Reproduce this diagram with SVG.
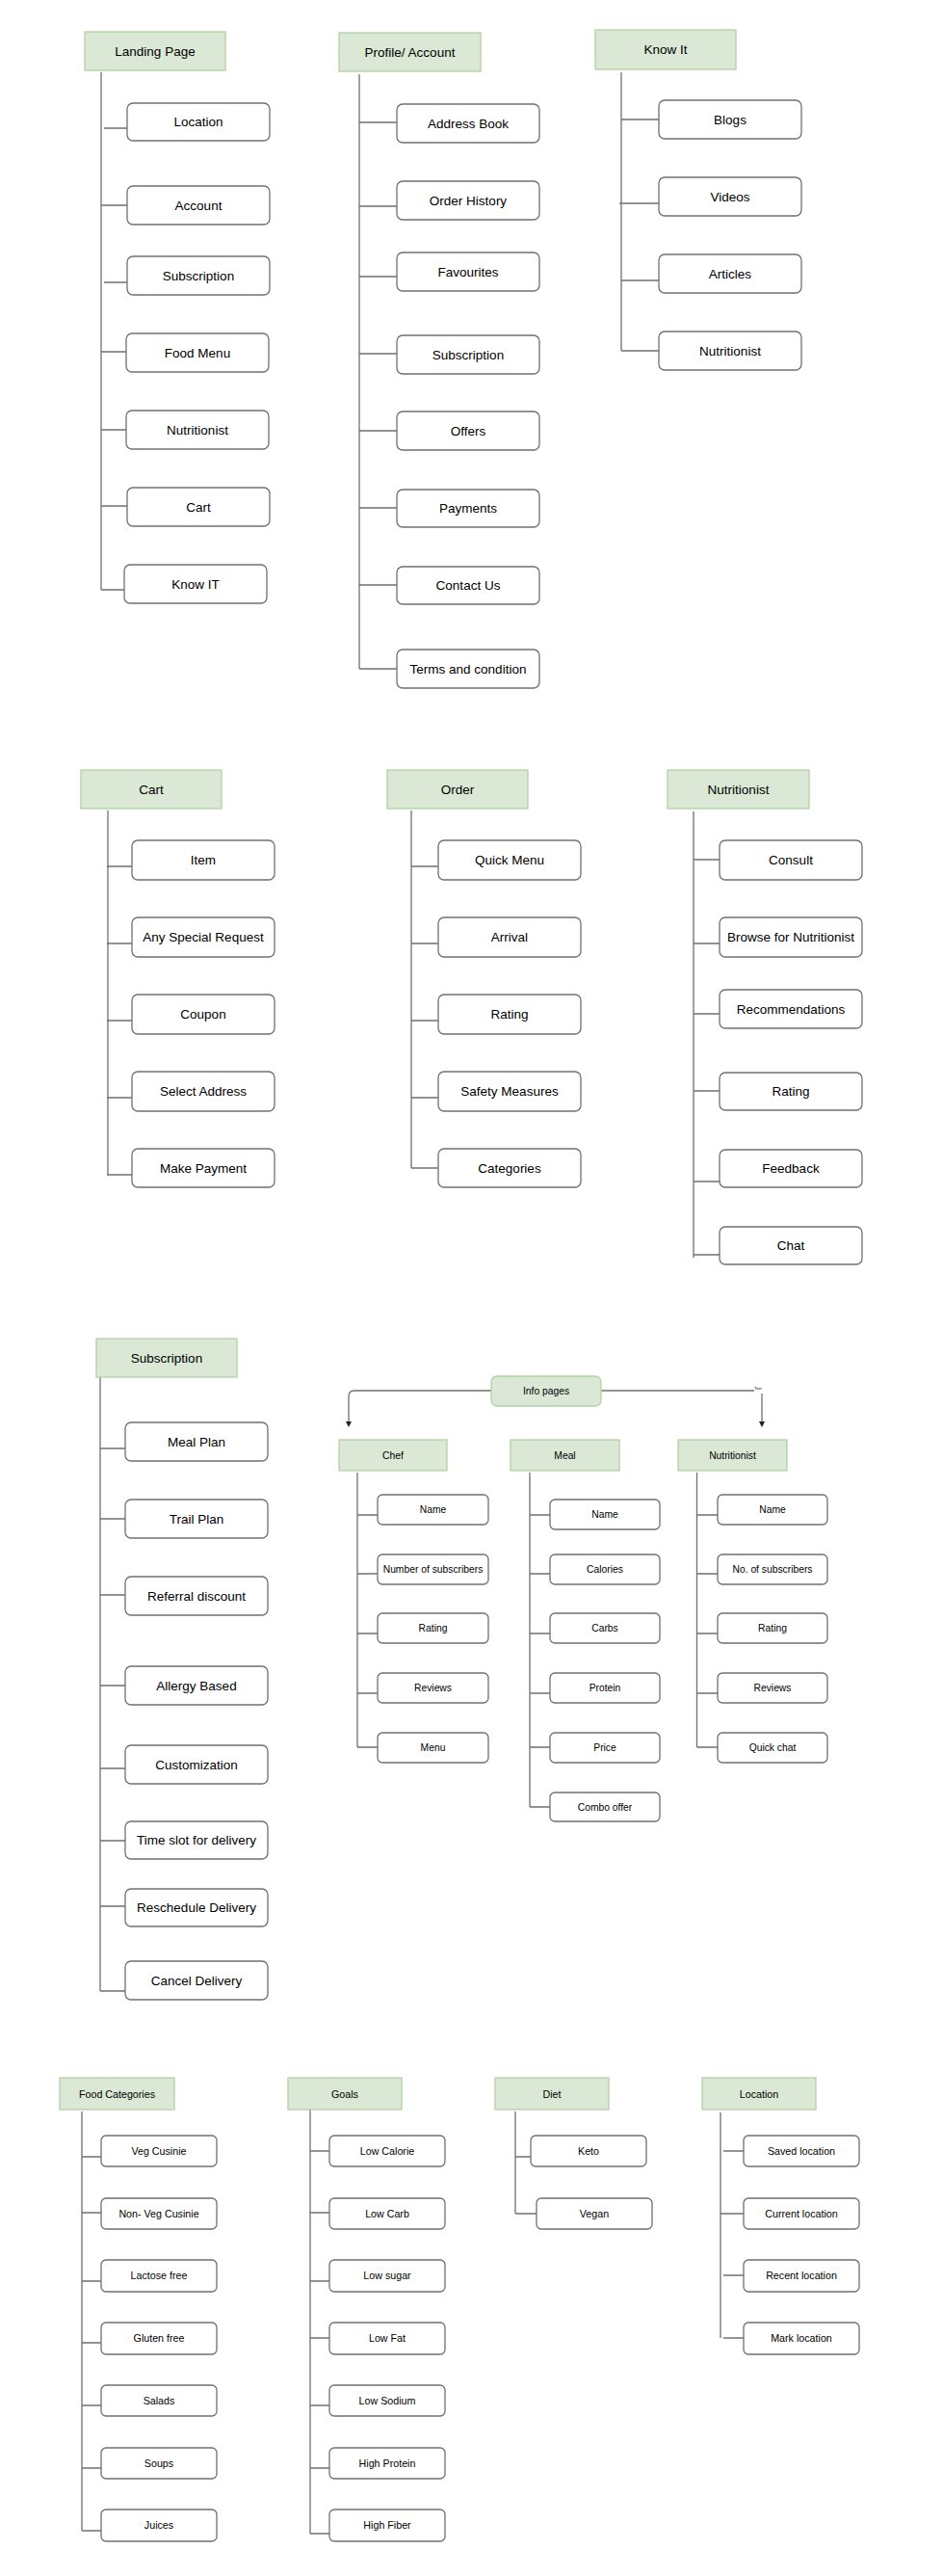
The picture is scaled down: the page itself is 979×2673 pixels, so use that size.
<svg xmlns="http://www.w3.org/2000/svg" width="979" height="2673" viewBox="0 0 979 2673">
<style>
.hdr{fill:#dae8d5;stroke:#b3d2a4;stroke-width:1.3}
.box{fill:#fff;stroke:#707070;stroke-width:1.3}
.ln{stroke:#707070;stroke-width:1.3;fill:none}
text{font-family:'Liberation Sans',Arial,sans-serif;text-anchor:middle;fill:#000}
.a{font-size:13.5px}
.b{font-size:10.3px}
.c{font-size:10.7px}
</style>
<defs>
<marker id="ah" markerWidth="6" markerHeight="6" refX="3" refY="3" orient="auto" markerUnits="userSpaceOnUse"><path d="M0,0 L6,3 L0,6 Z" fill="#222"/></marker>
</defs>
<rect width="979" height="2673" fill="#fff"/>

<g id="connectors">
<path class="ln" d="M105 75V612 M108 133H132 M105 213H132 M108 293H132 M105 365H131 M105 446H131 M105 525H132 M105 612H129"/>
<path class="ln" d="M373 77V694 M373 127H412 M373 214H412 M373 287H412 M373 367H412 M373 447H412 M373 527H412 M373 607H412 M373 694H412"/>
<path class="ln" d="M645 75V364 M645 124H684 M643 211H684 M645 291H684 M645 364H684"/>
<path class="ln" d="M112 841V1219 M111 899H137 M111 979H137 M111 1059H137 M111 1139H137 M111 1219H137"/>
<path class="ln" d="M427 841V1212 M427 899H455 M427 979H455 M427 1059H455 M427 1139H455 M427 1212H455"/>
<path class="ln" d="M720 842V1305 M720 892H747 M720 979H747 M720 1052H747 M720 1132H747 M720 1226H747 M720 1302H747"/>
<path class="ln" d="M104 1429V2066 M104 1503H130 M104 1576H130 M104 1655H130 M104 1749H130 M104 1835H130 M104 1910H130 M104 1978H130 M104 2066H130"/>
<path class="ln" d="M510 1443H368Q362 1443 362 1449V1478" marker-end="url(#ah)"/>
<path class="ln" d="M624 1443H783 M791 1446V1478" marker-end="url(#ah)"/>
<text x="787" y="1442" style="font-size:4px">Text</text>
<path class="ln" d="M371 1528V1813 M371 1572H392 M371 1633H392 M371 1695H392 M371 1757H392 M371 1813H392"/>
<path class="ln" d="M550 1528V1875 M550 1572H571 M550 1633H571 M550 1695H571 M550 1757H571 M550 1813H571 M550 1875H571"/>
<path class="ln" d="M723.5 1528V1813 M723.5 1572H745 M723.5 1633H745 M723.5 1695H745 M723.5 1757H745 M723.5 1813H745"/>
<path class="ln" d="M85 2191V2626 M85 2238H105 M85 2296H105 M85 2367H105 M85 2431H105 M85 2496H105 M85 2561H105 M85 2626H105"/>
<path class="ln" d="M322 2188V2629 M322 2232H342 M322 2296H342 M322 2367H342 M322 2426H342 M322 2496H342 M322 2561H342 M322 2629H342"/>
<path class="ln" d="M535 2191V2297 M535 2238H551 M535 2297H557"/>
<path class="ln" d="M748 2192V2426 M751 2232H772 M748 2297H772 M751 2361H772 M751 2426H772"/>
</g>

<g id="landing-page"><rect class="hdr" x="88" y="33" width="146" height="40"/><text class="a" x="161" y="57.5">Landing Page</text></g>
<g id="lp-location"><rect class="box" x="132" y="107" width="148" height="39" rx="6"/><text class="a" x="206" y="131">Location</text></g>
<g id="lp-account"><rect class="box" x="132" y="193" width="148" height="40" rx="6"/><text class="a" x="206" y="217.5">Account</text></g>
<g id="lp-subscription"><rect class="box" x="132" y="266" width="148" height="40" rx="6"/><text class="a" x="206" y="290.5">Subscription</text></g>
<g id="lp-foodmenu"><rect class="box" x="131" y="346" width="148" height="40" rx="6"/><text class="a" x="205" y="370.5">Food Menu</text></g>
<g id="lp-nutritionist"><rect class="box" x="131" y="426" width="148" height="40" rx="6"/><text class="a" x="205" y="450.5">Nutritionist</text></g>
<g id="lp-cart"><rect class="box" x="132" y="506" width="148" height="40" rx="6"/><text class="a" x="206" y="530.5">Cart</text></g>
<g id="lp-knowit"><rect class="box" x="129" y="586" width="148" height="40" rx="6"/><text class="a" x="203" y="610.5">Know IT</text></g>

<g id="profile"><rect class="hdr" x="352" y="34" width="147" height="40"/><text class="a" x="425.5" y="58.5">Profile/ Account</text></g>
<g id="pa-address"><rect class="box" x="412" y="108" width="148" height="40" rx="6"/><text class="a" x="486" y="132.5">Address Book</text></g>
<g id="pa-orders"><rect class="box" x="412" y="188" width="148" height="40" rx="6"/><text class="a" x="486" y="212.5">Order History</text></g>
<g id="pa-fav"><rect class="box" x="412" y="262" width="148" height="40" rx="6"/><text class="a" x="486" y="286.5">Favourites</text></g>
<g id="pa-sub"><rect class="box" x="412" y="348" width="148" height="40" rx="6"/><text class="a" x="486" y="372.5">Subscription</text></g>
<g id="pa-offers"><rect class="box" x="412" y="427" width="148" height="40" rx="6"/><text class="a" x="486" y="451.5">Offers</text></g>
<g id="pa-payments"><rect class="box" x="412" y="508" width="148" height="39" rx="6"/><text class="a" x="486" y="532">Payments</text></g>
<g id="pa-contact"><rect class="box" x="412" y="588" width="148" height="39" rx="6"/><text class="a" x="486" y="612">Contact Us</text></g>
<g id="pa-terms"><rect class="box" x="412" y="674" width="148" height="40" rx="6"/><text class="a" x="486" y="698.5">Terms and condition</text></g>

<g id="knowit"><rect class="hdr" x="618" y="31" width="146" height="41"/><text class="a" x="691" y="56">Know It</text></g>
<g id="ki-blogs"><rect class="box" x="684" y="104" width="148" height="40" rx="6"/><text class="a" x="758" y="128.5">Blogs</text></g>
<g id="ki-videos"><rect class="box" x="684" y="184" width="148" height="40" rx="6"/><text class="a" x="758" y="208.5">Videos</text></g>
<g id="ki-articles"><rect class="box" x="684" y="264" width="148" height="40" rx="6"/><text class="a" x="758" y="288.5">Articles</text></g>
<g id="ki-nutritionist"><rect class="box" x="684" y="344" width="148" height="40" rx="6"/><text class="a" x="758" y="368.5">Nutritionist</text></g>

<g id="cart"><rect class="hdr" x="84" y="799" width="146" height="40"/><text class="a" x="157" y="823.5">Cart</text></g>
<g id="c-item"><rect class="box" x="137" y="872" width="148" height="41" rx="6"/><text class="a" x="211" y="897">Item</text></g>
<g id="c-special"><rect class="box" x="137" y="952" width="148" height="41" rx="6"/><text class="a" x="211" y="977">Any Special Request</text></g>
<g id="c-coupon"><rect class="box" x="137" y="1032" width="148" height="41" rx="6"/><text class="a" x="211" y="1057">Coupon</text></g>
<g id="c-address"><rect class="box" x="137" y="1112" width="148" height="41" rx="6"/><text class="a" x="211" y="1137">Select Address</text></g>
<g id="c-payment"><rect class="box" x="137" y="1192" width="148" height="40" rx="6"/><text class="a" x="211" y="1216.5">Make Payment</text></g>

<g id="order"><rect class="hdr" x="402" y="799" width="146" height="40"/><text class="a" x="475" y="823.5">Order</text></g>
<g id="o-quick"><rect class="box" x="455" y="872" width="148" height="41" rx="6"/><text class="a" x="529" y="897">Quick Menu</text></g>
<g id="o-arrival"><rect class="box" x="455" y="952" width="148" height="41" rx="6"/><text class="a" x="529" y="977">Arrival</text></g>
<g id="o-rating"><rect class="box" x="455" y="1032" width="148" height="41" rx="6"/><text class="a" x="529" y="1057">Rating</text></g>
<g id="o-safety"><rect class="box" x="455" y="1112" width="148" height="41" rx="6"/><text class="a" x="529" y="1137">Safety Measures</text></g>
<g id="o-categories"><rect class="box" x="455" y="1192" width="148" height="40" rx="6"/><text class="a" x="529" y="1216.5">Categories</text></g>

<g id="nutritionist"><rect class="hdr" x="693" y="799" width="147" height="40"/><text class="a" x="766.5" y="823.5">Nutritionist</text></g>
<g id="n-consult"><rect class="box" x="747" y="872" width="148" height="41" rx="6"/><text class="a" x="821" y="897">Consult</text></g>
<g id="n-browse"><rect class="box" x="747" y="952" width="148" height="41" rx="6"/><text class="a" x="821" y="977">Browse for Nutritionist</text></g>
<g id="n-reco"><rect class="box" x="747" y="1027" width="148" height="40" rx="6"/><text class="a" x="821" y="1051.5">Recommendations</text></g>
<g id="n-rating"><rect class="box" x="747" y="1113" width="148" height="39" rx="6"/><text class="a" x="821" y="1137">Rating</text></g>
<g id="n-feedback"><rect class="box" x="747" y="1193" width="148" height="39" rx="6"/><text class="a" x="821" y="1217">Feedback</text></g>
<g id="n-chat"><rect class="box" x="747" y="1273" width="148" height="39" rx="6"/><text class="a" x="821" y="1297">Chat</text></g>

<g id="subscription"><rect class="hdr" x="100" y="1389" width="146" height="40"/><text class="a" x="173" y="1413.5">Subscription</text></g>
<g id="s-meal"><rect class="box" x="130" y="1476" width="148" height="40" rx="6"/><text class="a" x="204" y="1500.5">Meal Plan</text></g>
<g id="s-trail"><rect class="box" x="130" y="1556" width="148" height="40" rx="6"/><text class="a" x="204" y="1580.5">Trail Plan</text></g>
<g id="s-referral"><rect class="box" x="130" y="1636" width="148" height="40" rx="6"/><text class="a" x="204" y="1660.5">Referral discount</text></g>
<g id="s-allergy"><rect class="box" x="130" y="1729" width="148" height="40" rx="6"/><text class="a" x="204" y="1753.5">Allergy Based</text></g>
<g id="s-custom"><rect class="box" x="130" y="1811" width="148" height="40" rx="6"/><text class="a" x="204" y="1835.5">Customization</text></g>
<g id="s-timeslot"><rect class="box" x="130" y="1890" width="148" height="39" rx="6"/><text class="a" x="204" y="1914">Time slot for delivery</text></g>
<g id="s-reschedule"><rect class="box" x="130" y="1960" width="148" height="39" rx="6"/><text class="a" x="204" y="1984">Reschedule Delivery</text></g>
<g id="s-cancel"><rect class="box" x="130" y="2035" width="148" height="40" rx="6"/><text class="a" x="204" y="2059.5">Cancel Delivery</text></g>

<g id="info-pages"><rect class="hdr" x="510" y="1428" width="114" height="31" rx="6"/><text class="b" x="567" y="1447">Info pages</text></g>
<g id="chef"><rect class="hdr" x="352" y="1494" width="112" height="32"/><text class="b" x="408" y="1513.5">Chef</text></g>
<g id="ch-name"><rect class="box" x="392" y="1551" width="115" height="31" rx="5"/><text class="b" x="449.5" y="1570">Name</text></g>
<g id="ch-subs"><rect class="box" x="392" y="1613" width="115" height="31" rx="5"/><text class="b" x="449.5" y="1632">Number of subscribers</text></g>
<g id="ch-rating"><rect class="box" x="392" y="1674" width="115" height="31" rx="5"/><text class="b" x="449.5" y="1693">Rating</text></g>
<g id="ch-reviews"><rect class="box" x="392" y="1736" width="115" height="31" rx="5"/><text class="b" x="449.5" y="1755">Reviews</text></g>
<g id="ch-menu"><rect class="box" x="392" y="1798" width="115" height="31" rx="5"/><text class="b" x="449.5" y="1817">Menu</text></g>

<g id="meal"><rect class="hdr" x="530" y="1494" width="113" height="32"/><text class="b" x="586.5" y="1513.5">Meal</text></g>
<g id="m-name"><rect class="box" x="571" y="1556" width="114" height="31" rx="5"/><text class="b" x="628" y="1575">Name</text></g>
<g id="m-cal"><rect class="box" x="571" y="1613" width="114" height="31" rx="5"/><text class="b" x="628" y="1632">Calories</text></g>
<g id="m-carbs"><rect class="box" x="571" y="1674" width="114" height="31" rx="5"/><text class="b" x="628" y="1693">Carbs</text></g>
<g id="m-protein"><rect class="box" x="571" y="1736" width="114" height="31" rx="5"/><text class="b" x="628" y="1755">Protein</text></g>
<g id="m-price"><rect class="box" x="571" y="1798" width="114" height="31" rx="5"/><text class="b" x="628" y="1817">Price</text></g>
<g id="m-combo"><rect class="box" x="571" y="1860" width="114" height="30" rx="5"/><text class="b" x="628" y="1878.5">Combo offer</text></g>

<g id="info-nutritionist"><rect class="hdr" x="704" y="1494" width="113" height="32"/><text class="b" x="760.5" y="1513.5">Nutritionist</text></g>
<g id="in-name"><rect class="box" x="745" y="1551" width="114" height="31" rx="5"/><text class="b" x="802" y="1570">Name</text></g>
<g id="in-subs"><rect class="box" x="745" y="1613" width="114" height="31" rx="5"/><text class="b" x="802" y="1632">No. of subscribers</text></g>
<g id="in-rating"><rect class="box" x="745" y="1674" width="114" height="31" rx="5"/><text class="b" x="802" y="1693">Rating</text></g>
<g id="in-reviews"><rect class="box" x="745" y="1736" width="114" height="31" rx="5"/><text class="b" x="802" y="1755">Reviews</text></g>
<g id="in-chat"><rect class="box" x="745" y="1798" width="114" height="31" rx="5"/><text class="b" x="802" y="1817">Quick chat</text></g>

<g id="food-categories"><rect class="hdr" x="62" y="2156" width="119" height="33"/><text class="c" x="121.5" y="2176.5">Food Categories</text></g>
<g id="fc-veg"><rect class="box" x="105" y="2216" width="120" height="32" rx="5"/><text class="c" x="165" y="2235.7">Veg Cusinie</text></g>
<g id="fc-nonveg"><rect class="box" x="105" y="2281" width="120" height="32" rx="5"/><text class="c" x="165" y="2300.7">Non- Veg Cusinie</text></g>
<g id="fc-lactose"><rect class="box" x="105" y="2345" width="120" height="33" rx="5"/><text class="c" x="165" y="2365.2">Lactose free</text></g>
<g id="fc-gluten"><rect class="box" x="105" y="2410" width="120" height="33" rx="5"/><text class="c" x="165" y="2430.2">Gluten free</text></g>
<g id="fc-salads"><rect class="box" x="105" y="2475" width="120" height="32" rx="5"/><text class="c" x="165" y="2494.7">Salads</text></g>
<g id="fc-soups"><rect class="box" x="105" y="2540" width="120" height="32" rx="5"/><text class="c" x="165" y="2559.7">Soups</text></g>
<g id="fc-juices"><rect class="box" x="105" y="2604" width="120" height="33" rx="5"/><text class="c" x="165" y="2624.2">Juices</text></g>

<g id="goals"><rect class="hdr" x="299" y="2156" width="118" height="33"/><text class="c" x="358" y="2176.5">Goals</text></g>
<g id="g-cal"><rect class="box" x="342" y="2216" width="120" height="32" rx="5"/><text class="c" x="402" y="2235.7">Low Calorie</text></g>
<g id="g-carb"><rect class="box" x="342" y="2281" width="120" height="32" rx="5"/><text class="c" x="402" y="2300.7">Low Carb</text></g>
<g id="g-sugar"><rect class="box" x="342" y="2345" width="120" height="33" rx="5"/><text class="c" x="402" y="2365.2">Low sugar</text></g>
<g id="g-fat"><rect class="box" x="342" y="2410" width="120" height="33" rx="5"/><text class="c" x="402" y="2430.2">Low Fat</text></g>
<g id="g-sodium"><rect class="box" x="342" y="2475" width="120" height="32" rx="5"/><text class="c" x="402" y="2494.7">Low Sodium</text></g>
<g id="g-protein"><rect class="box" x="342" y="2540" width="120" height="32" rx="5"/><text class="c" x="402" y="2559.7">High Protein</text></g>
<g id="g-fiber"><rect class="box" x="342" y="2604" width="120" height="33" rx="5"/><text class="c" x="402" y="2624.2">High Fiber</text></g>

<g id="diet"><rect class="hdr" x="514" y="2156" width="118" height="33"/><text class="c" x="573" y="2176.5">Diet</text></g>
<g id="d-keto"><rect class="box" x="551" y="2216" width="120" height="32" rx="5"/><text class="c" x="611" y="2235.7">Keto</text></g>
<g id="d-vegan"><rect class="box" x="557" y="2281" width="120" height="32" rx="5"/><text class="c" x="617" y="2300.7">Vegan</text></g>

<g id="location"><rect class="hdr" x="729" y="2156" width="118" height="33"/><text class="c" x="788" y="2176.5">Location</text></g>
<g id="l-saved"><rect class="box" x="772" y="2216" width="120" height="32" rx="5"/><text class="c" x="832" y="2235.7">Saved location</text></g>
<g id="l-current"><rect class="box" x="772" y="2281" width="120" height="32" rx="5"/><text class="c" x="832" y="2300.7">Current location</text></g>
<g id="l-recent"><rect class="box" x="772" y="2345" width="120" height="33" rx="5"/><text class="c" x="832" y="2365.2">Recent location</text></g>
<g id="l-mark"><rect class="box" x="772" y="2410" width="120" height="33" rx="5"/><text class="c" x="832" y="2430.2">Mark location</text></g>
</svg>
